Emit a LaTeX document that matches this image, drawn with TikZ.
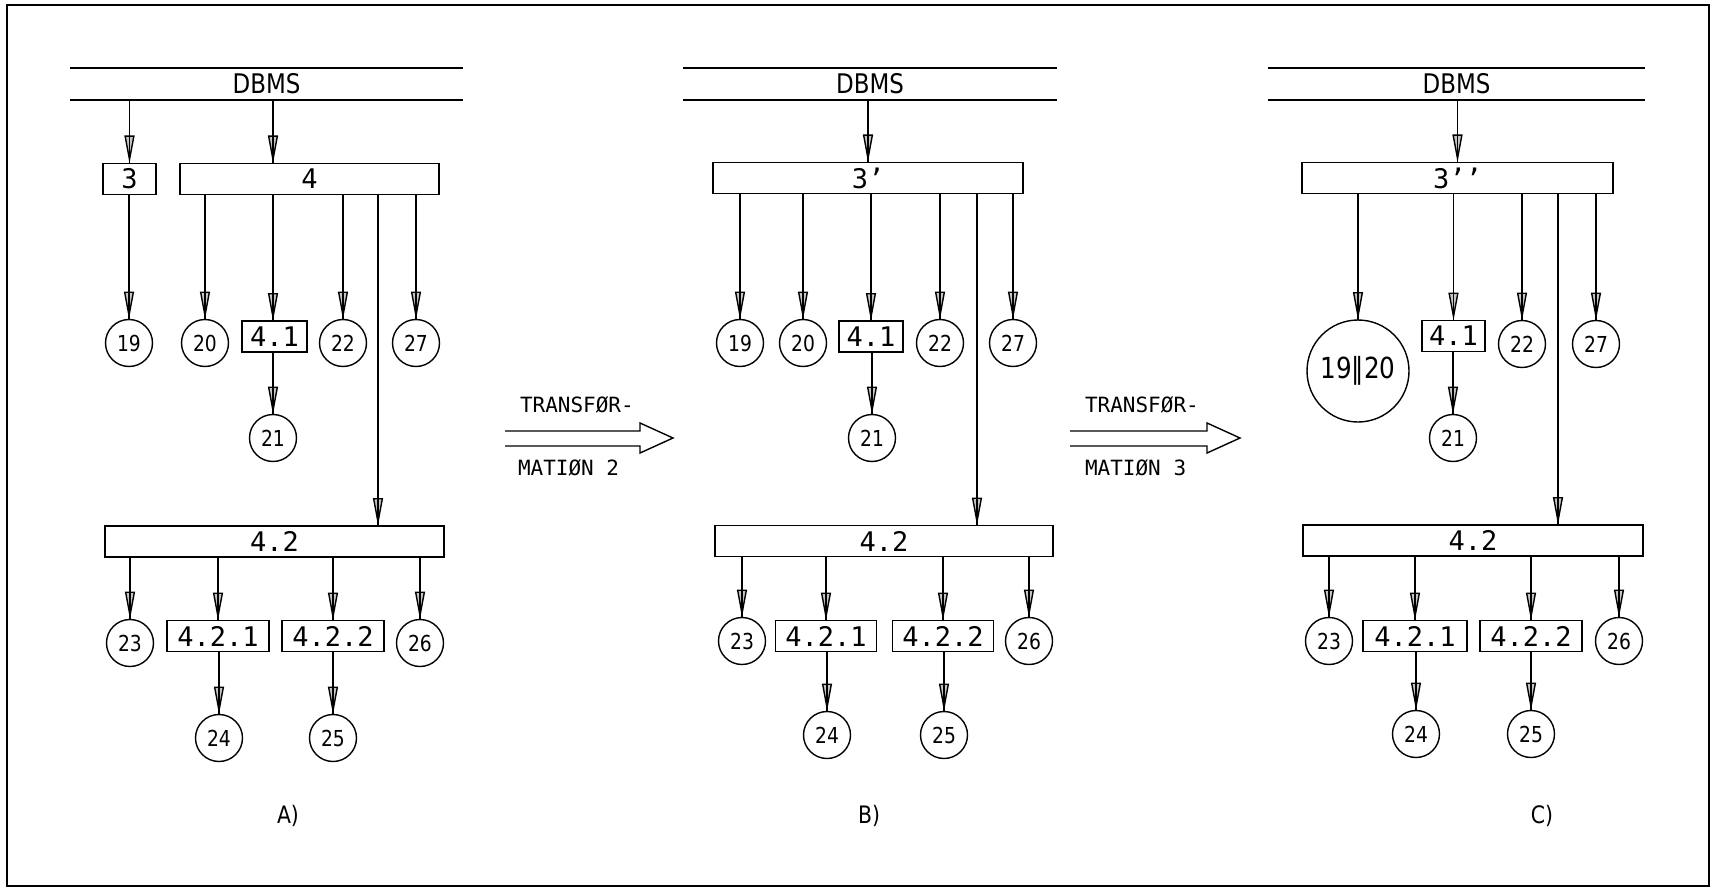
\documentclass[tikz,border=0pt]{standalone}
\usepackage{fontspec}
\usetikzlibrary{arrows.meta}
\newfontfamily\pf[FakeStretch=0.85]{DejaVu Sans}
\newfontfamily\mf{DejaVu Sans Mono}
\tikzset{
  every node/.style={inner sep=0pt, outer sep=0pt},
  lw/.style={line width=1.4pt},
  bx/.style={draw, lw, minimum height=31pt, font=\mf\fontsize{27}{27}\selectfont},
  cn/.style={draw, lw, circle, minimum size=47pt, font=\pf\fontsize{22}{22}\selectfont},
  db/.style={minimum height=32pt, font=\pf\fontsize{27}{27}\selectfont},
  lab/.style={font=\pf\fontsize{24}{24}\selectfont},
  tf/.style={anchor=west, font=\mf\fontsize{21}{21}\selectfont},
  arr/.style={lw, -{Triangle[length=28pt,width=10pt,fill=gray!45]}, postaction={draw, arrows=-}},
  dbline/.style={line width=1.6pt}
}
\newcommand\conn[3]{\draw[arr] (#1.south -| #3) -- (#2.north -| #3);}
\begin{document}
\begin{tikzpicture}[x=1pt,y=-1pt]
\useasboundingbox (0,0) rectangle (1717,888);
\draw[line width=2.5pt] (7,5) rectangle (1709,886);

% ---------- Panel A ----------
\node[db, minimum width=393pt] (Adb) at (266.5,84) {DBMS};
\draw[dbline] (Adb.north west) -- (Adb.north east);
\draw[dbline] (Adb.south west) -- (Adb.south east);
\node[bx, minimum width=53pt] (A3) at (129.5,179) {3};
\node[bx, minimum width=259pt] (A4) at (309.5,179) {4};
\node[cn] (A19) at (129,343) {19};
\node[cn] (A20) at (205,343) {20};
\node[bx, minimum width=65pt] (A41) at (274.5,336.5) {4.1};
\node[cn] (A22) at (343,343) {22};
\node[cn] (A27) at (416,343) {27};
\node[cn] (A21) at (273,438) {21};
\node[bx, minimum width=339pt] (A42) at (274.5,541.5) {4.2};
\node[cn] (A23) at (130,643) {23};
\node[bx, minimum width=102pt] (A421) at (218,636) {4.2.1};
\node[bx, minimum width=102pt] (A422) at (333,636) {4.2.2};
\node[cn] (A26) at (420,643) {26};
\node[cn] (A24) at (219,738) {24};
\node[cn] (A25) at (333,738) {25};
\node[lab] (labA) at (288,816) {A)};
\coordinate (xA1) at (273,0);
\coordinate (xA2) at (378,0);
\conn{Adb}{A3}{A3}
\conn{Adb}{A4}{xA1}
\conn{A3}{A19}{A19}
\conn{A4}{A20}{A20}
\conn{A4}{A41}{xA1}
\conn{A4}{A22}{A22}
\conn{A4}{A27}{A27}
\conn{A4}{A42}{xA2}
\conn{A41}{A21}{A21}
\conn{A42}{A23}{A23}
\conn{A42}{A421}{A421}
\conn{A42}{A422}{A422}
\conn{A42}{A26}{A26}
\conn{A421}{A24}{A24}
\conn{A422}{A25}{A25}

% ---------- Transformation 2 ----------
\draw[lw] (505,431) -- (640,431) -- (640,423) -- (673,438) -- (640,453) -- (640,446) -- (505,446);
\node[tf] (T2a) at (520,405) {TRANSFØR-};
\node[tf] (T2b) at (518,468) {MATIØN 2};

% ---------- Panel B ----------
\node[db, minimum width=374pt] (Bdb) at (870,84) {DBMS};
\draw[dbline] (Bdb.north west) -- (Bdb.north east);
\draw[dbline] (Bdb.south west) -- (Bdb.south east);
\node[bx, minimum width=310pt] (B3) at (868,178) {3’};
\node[cn] (B19) at (740,343) {19};
\node[cn] (B20) at (803,343) {20};
\node[bx, minimum width=64pt] (B41) at (871,336.5) {4.1};
\node[cn] (B22) at (940,343) {22};
\node[cn] (B27) at (1013,343) {27};
\node[cn] (B21) at (872,438) {21};
\node[bx, minimum width=338pt] (B42) at (884,541) {4.2};
\node[cn] (B23) at (742,641) {23};
\node[bx, minimum width=101pt] (B421) at (826,636) {4.2.1};
\node[bx, minimum width=101pt] (B422) at (943,636) {4.2.2};
\node[cn] (B26) at (1029,641) {26};
\node[cn] (B24) at (827,735) {24};
\node[cn] (B25) at (944,735) {25};
\node[lab] (labB) at (869,816) {B)};
\coordinate (xB) at (977,0);
\conn{Bdb}{B3}{B3}
\conn{B3}{B19}{B19}
\conn{B3}{B20}{B20}
\conn{B3}{B41}{B41}
\conn{B3}{B22}{B22}
\conn{B3}{B27}{B27}
\conn{B3}{B42}{xB}
\conn{B41}{B21}{B21}
\conn{B42}{B23}{B23}
\conn{B42}{B421}{B421}
\conn{B42}{B422}{B422}
\conn{B42}{B26}{B26}
\conn{B421}{B24}{B24}
\conn{B422}{B25}{B25}

% ---------- Transformation 3 ----------
\draw[lw] (1070,431) -- (1207,431) -- (1207,423) -- (1240,438) -- (1207,453) -- (1207,446) -- (1070,446);
\node[tf] (T3a) at (1085,405) {TRANSFØR-};
\node[tf] (T3b) at (1085,468) {MATIØN 3};

% ---------- Panel C ----------
\node[db, minimum width=377pt] (Cdb) at (1456.5,84) {DBMS};
\draw[dbline] (Cdb.north west) -- (Cdb.north east);
\draw[dbline] (Cdb.south west) -- (Cdb.south east);
\node[bx, minimum width=311pt] (C3) at (1457.5,178) {3’’};
\node[cn, minimum size=102pt, font=\pf\fontsize{29}{29}\selectfont] (C1920) at (1358,371) {19‖20};
\node[bx, minimum width=63pt] (C41) at (1453.5,336) {4.1};
\node[cn] (C22) at (1522,344) {22};
\node[cn] (C27) at (1596,344) {27};
\node[cn] (C21) at (1453,438) {21};
\node[bx, minimum width=340pt] (C42) at (1473,540.5) {4.2};
\node[cn] (C23) at (1329,641) {23};
\node[bx, minimum width=104pt] (C421) at (1415,636) {4.2.1};
\node[bx, minimum width=102pt] (C422) at (1531,636) {4.2.2};
\node[cn] (C26) at (1619,641) {26};
\node[cn] (C24) at (1416,734) {24};
\node[cn] (C25) at (1531,734) {25};
\node[lab] (labC) at (1542,816) {C)};
\coordinate (xC) at (1558,0);
\conn{Cdb}{C3}{C3}
\conn{C3}{C1920}{C1920}
\conn{C3}{C41}{C41}
\conn{C3}{C22}{C22}
\conn{C3}{C27}{C27}
\conn{C3}{C42}{xC}
\conn{C41}{C21}{C21}
\conn{C42}{C23}{C23}
\conn{C42}{C421}{C421}
\conn{C42}{C422}{C422}
\conn{C42}{C26}{C26}
\conn{C421}{C24}{C24}
\conn{C422}{C25}{C25}
\end{tikzpicture}
\end{document}
